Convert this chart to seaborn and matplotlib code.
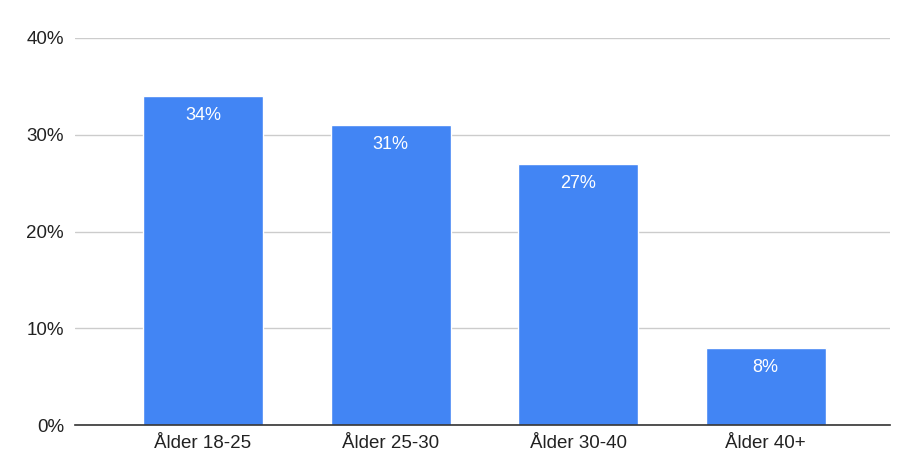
import matplotlib
matplotlib.use("Agg")
import matplotlib.pyplot as plt
import seaborn as sns
import pandas as pd

# data
categories = ["Ålder 18-25", "Ålder 25-30", "Ålder 30-40", "Ålder 40+"]
shares = [34, 31, 27, 8]
yticks = [0, 10, 20, 30, 40]

df = pd.DataFrame({"group": categories, "share": shares})

sns.set_style("white")
plt.rcParams["font.family"] = ["Liberation Sans", "DejaVu Sans"]

fig = plt.figure(figsize=(9.18, 4.54), dpi=100)
ax = fig.add_axes([75 / 918, 29 / 454, 815 / 918, 387 / 454])

sns.barplot(data=df, x="group", y="share", color="#4285F4",
            saturation=1, width=0.64, ax=ax)

for i, v in enumerate(shares):
    ax.annotate(f"{v}%", xy=(i, v), xytext=(0, -14), textcoords="offset points",
                ha="center", va="center", color="white", fontsize=13)

ax.set_xlim(-0.683, 3.664)
ax.set_ylim(0, 40)
ax.set_yticks(yticks)
ax.set_yticklabels([f"{t}%" for t in yticks])
ax.grid(axis="y", color="#cccccc", linewidth=1)
ax.set_axisbelow(True)
for s in ["top", "right", "left"]:
    ax.spines[s].set_visible(False)
ax.spines["bottom"].set_color("#333333")
ax.spines["bottom"].set_linewidth(1.2)
ax.tick_params(axis="both", length=0, labelsize=13.5, colors="#222222")
ax.tick_params(axis="y", pad=8)
ax.tick_params(axis="x", pad=7)
ax.set_xlabel("")
ax.set_ylabel("")

fig.savefig("out.png", dpi=100)
